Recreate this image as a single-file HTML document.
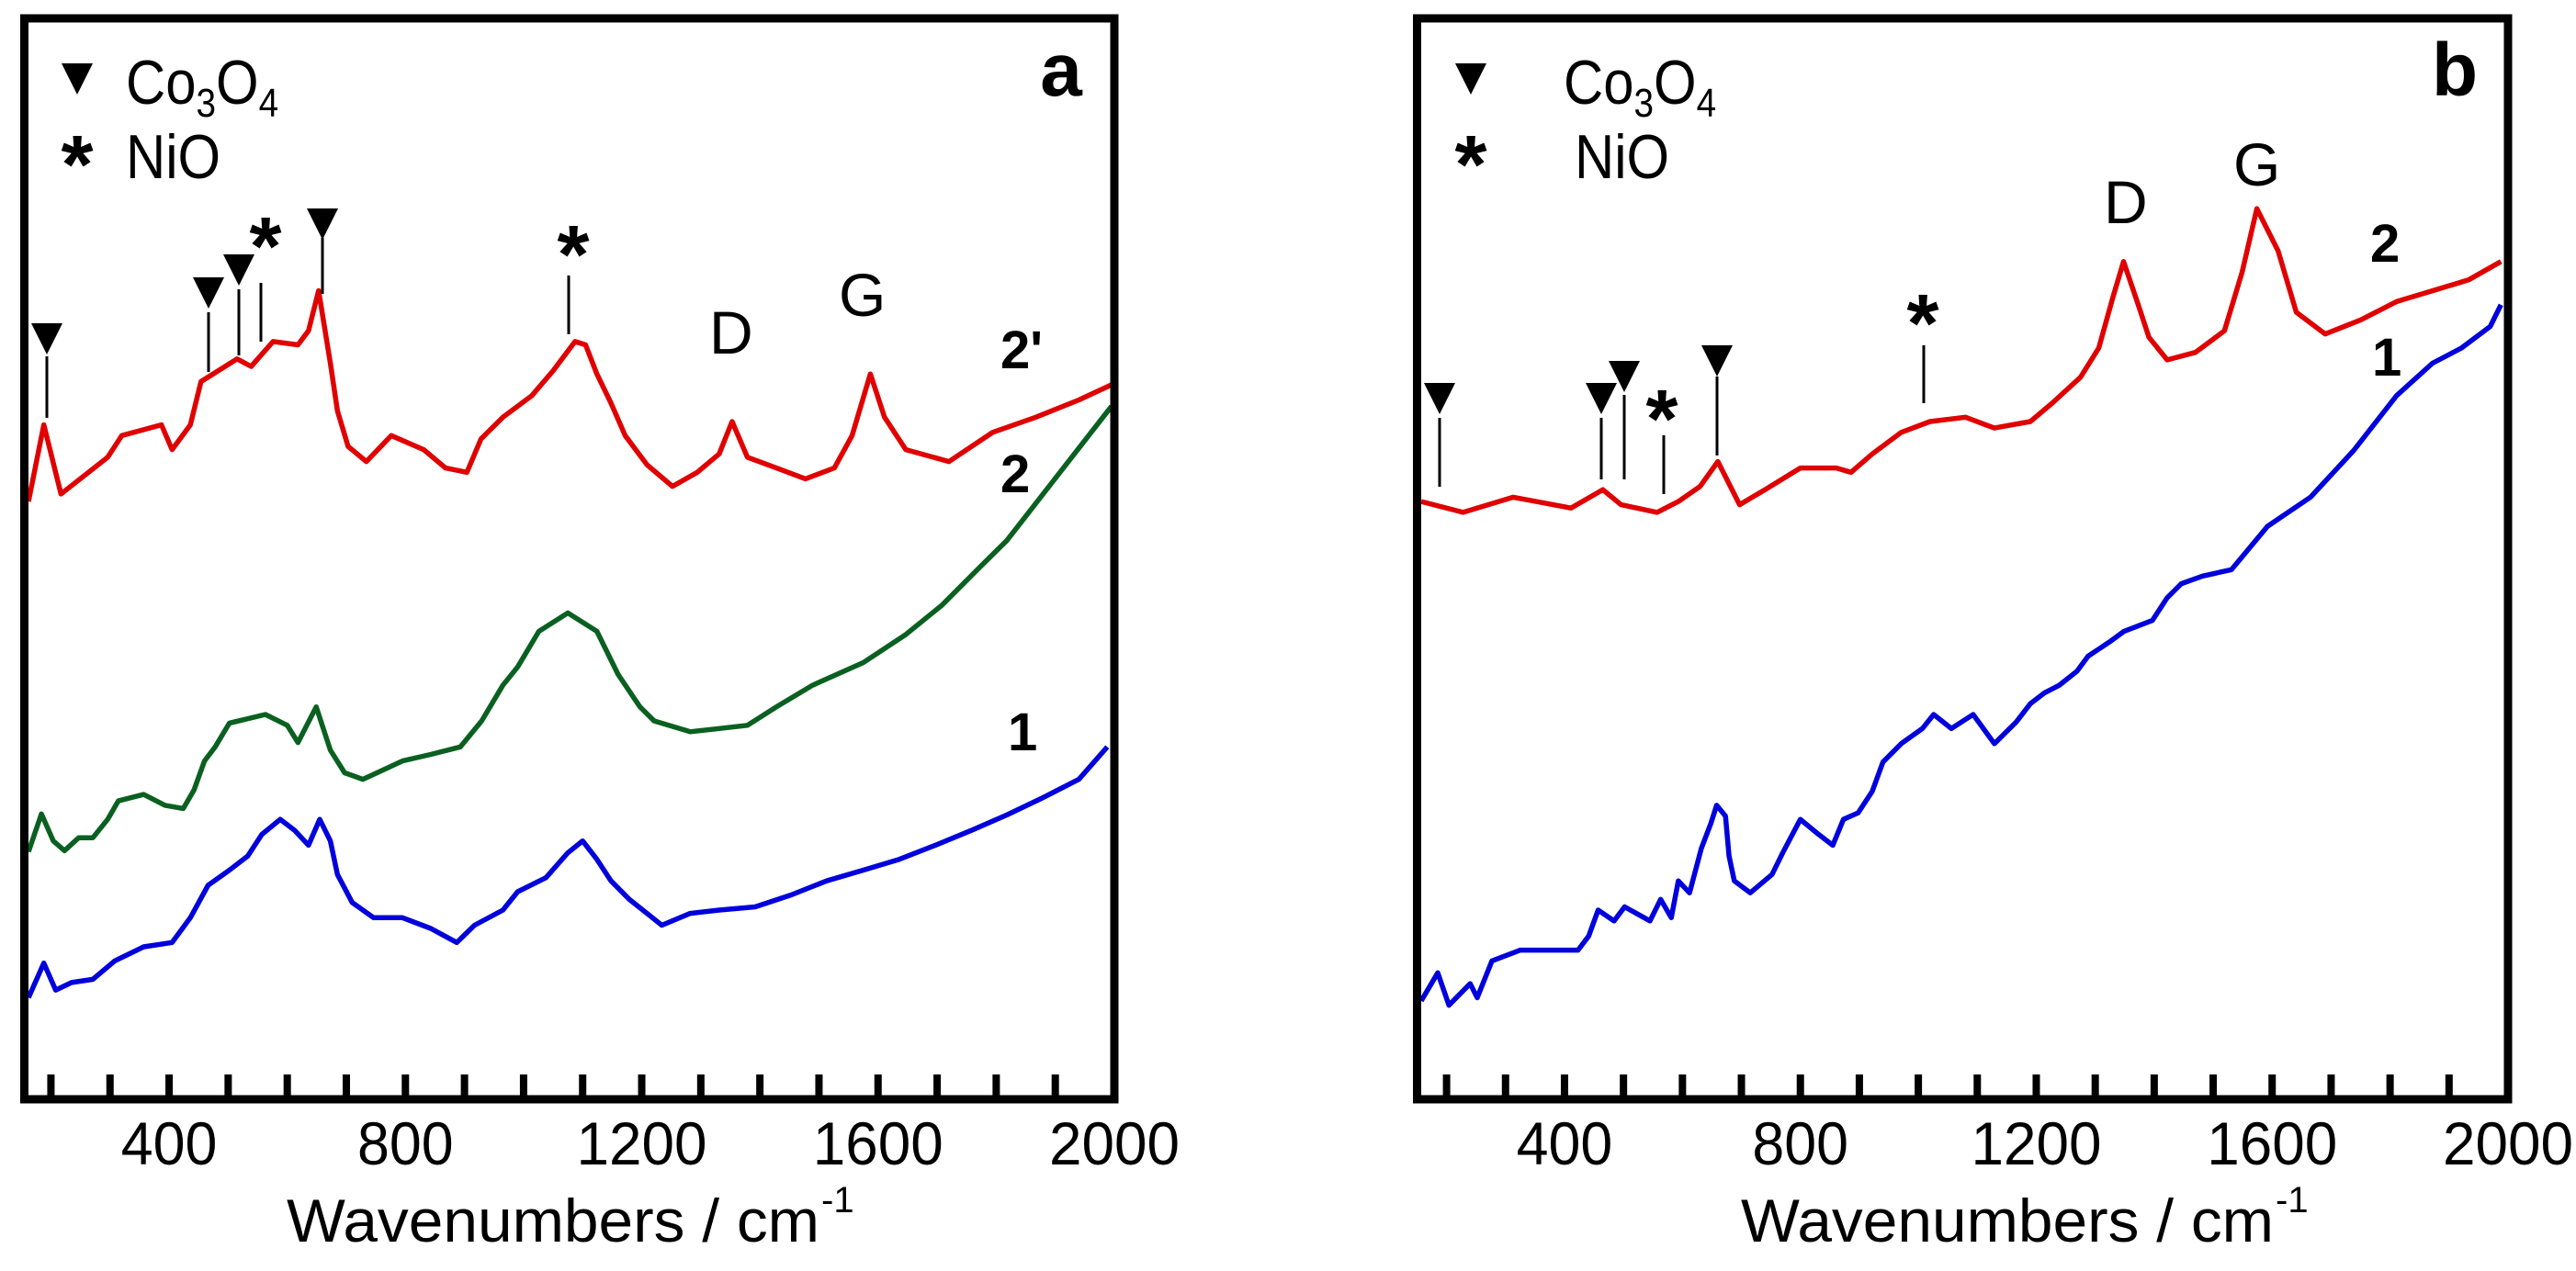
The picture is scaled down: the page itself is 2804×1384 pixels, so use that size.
<!DOCTYPE html>
<html><head><meta charset="utf-8"><style>
html,body{margin:0;padding:0;background:#fff;}
svg{display:block;}
text{font-family:"Liberation Sans",Arial,sans-serif;}
</style></head><body>
<svg id="chart" width="2804" height="1384" viewBox="0 0 2804 1384" xmlns="http://www.w3.org/2000/svg">
<rect width="2804" height="1384" fill="#fff"/>
<g id="pa"></g>
<g id="pb"></g>
</svg>
<script>
// ---- data (wavenumber cm-1, intensity a.u.) ----
const tickValues = [200,300,400,500,600,700,800,900,1000,1100,1200,1300,1400,1500,1600,1700,1800,1900];
const tickLabels = [400,800,1200,1600,2000];

const aRedX = [162,188,217,296,320,387,405,436,454,515,539,576,618,636,653,673,685,703,734,776,831,868,904,928,965,1014,1050,1087,1105,1124,1148,1172,1209,1252,1294,1331,1353,1379,1428,1477,1526,1556,1587,1611,1647,1720,1794,1867,1940,1995];
const aRedY = [55.3,62.4,56.0,59.4,61.4,62.4,60.1,62.4,66.4,68.5,67.8,70.1,69.8,71.1,74.8,68.1,63.7,60.4,59.0,61.4,60.1,58.4,58.0,61.1,63.1,65.1,67.4,70.1,69.8,67.1,64.4,61.4,58.7,56.7,58.0,59.7,62.7,59.4,58.4,57.4,58.4,61.4,67.1,63.1,60.1,59.0,61.7,63.1,64.7,66.1];

const aGreenX = [162,184,204,223,247,271,296,314,357,393,424,442,460,478,502,563,600,618,649,673,697,728,795,843,893,929,965,990,1026,1075,1124,1160,1197,1221,1282,1331,1379,1428,1489,1575,1647,1708,1770,1818,1995];
const aGreenY = [22.9,26.4,23.9,23.0,24.2,24.2,25.9,27.6,28.2,27.2,26.9,28.6,31.3,32.6,34.8,35.6,34.6,33.0,36.3,32.3,30.2,29.6,31.3,31.9,32.6,35.0,38.3,40.0,43.3,45.0,43.3,39.3,36.3,35.0,34.0,34.3,34.6,36.3,38.3,40.4,43.0,45.7,49.1,51.7,64.1];

const aBlueX = [162,188,208,235,271,308,357,405,436,466,502,533,557,588,612,636,655,673,685,710,746,795,843,887,917,965,990,1038,1075,1100,1124,1148,1179,1209,1234,1282,1331,1392,1453,1513,1575,1636,1697,1759,1818,1879,1940,1988];
const aBlueY = [9.4,12.6,10.1,10.8,11.1,12.8,14.1,14.5,16.8,19.8,21.2,22.5,24.5,25.9,24.9,23.5,25.9,23.9,20.8,18.2,16.8,16.8,15.8,14.5,16.1,17.5,19.2,20.5,22.8,23.9,22.2,20.2,18.5,17.2,16.1,17.2,17.5,17.8,18.9,20.2,21.2,22.2,23.5,24.9,26.3,27.9,29.6,32.6];

const bRedX = [157,228,313,411,465,496,557,593,630,660,697,740,800,861,886,922,971,1020,1080,1129,1190,1227,1275,1306,1330,1348,1373,1391,1422,1470,1519,1549,1574,1610,1641,1690,1750,1811,1872,1933,1988];
const bRedY = [55.3,54.3,55.7,54.7,56.4,55.0,54.3,55.3,56.7,59.0,55.0,56.4,58.4,58.4,58.0,59.7,61.7,62.7,63.1,62.1,62.7,64.4,66.8,69.5,74.2,77.5,73.5,70.5,68.4,69.1,71.1,76.5,82.4,78.5,72.8,70.8,72.1,73.8,74.8,75.8,77.5];

const bBlueX = [157,185,204,240,252,277,325,374,423,441,457,484,502,545,563,581,593,612,632,648,658,673,679,688,715,752,770,800,831,855,873,898,922,940,971,1007,1026,1056,1093,1129,1166,1190,1214,1239,1269,1288,1324,1349,1397,1422,1446,1482,1531,1592,1665,1738,1811,1872,1921,1970,1988];
const bBlueY = [9.1,11.7,8.7,10.7,9.4,12.8,13.8,13.8,13.8,15.1,17.5,16.5,17.8,16.5,18.5,16.8,20.2,19.1,23.2,25.5,27.2,26.2,22.5,20.2,19.1,20.8,22.8,25.9,24.5,23.5,25.9,26.5,28.5,31.2,32.9,34.3,35.6,34.3,35.6,32.9,34.9,36.6,37.6,38.3,39.6,41.0,42.3,43.3,44.3,46.4,47.7,48.4,49.0,53.0,55.7,60.0,65.1,68.1,69.5,71.5,73.5];

const NS = "http://www.w3.org/2000/svg";
function mk(parent, tag, attrs, txt){
  const e = document.createElementNS(NS, tag);
  for (const k in attrs) e.setAttribute(k, attrs[k]);
  if (txt !== undefined) e.textContent = txt;
  parent.appendChild(e);
  return e;
}
const Y0 = 1197, Y1 = 20;
function yScale(v){ return Y0 - v * (Y0 - Y1) / 100; }

function drawPanel(g, L, R, xmin, series, letter, titleX){
  const sx = w => L + (w - xmin) * (R - L) / (2000 - xmin);
  series.forEach(s => {
    const d = s.x.map((w,i)=> (i?'L':'M') + sx(w).toFixed(1) + ' ' + yScale(s.y[i]).toFixed(1)).join(' ');
    const p = mk(g, 'path', {d:d, fill:'none', stroke:s.color, 'stroke-width':5.5, 'stroke-linejoin':'round'});
    
    
  });
  const fr = mk(g, 'rect', {x:L, y:Y1, width:R-L, height:Y0-Y1, fill:'none', stroke:'#000', 'stroke-width':9});
  
  
  tickValues.forEach(t => {
    const tk = mk(g, 'line', {x1:sx(t), x2:sx(t), y1:Y0, y2:Y0-27, stroke:'#000', 'stroke-width':8});
    
    
  });
  tickLabels.forEach(t => {
    const tl = mk(g, 'text', {x:sx(t), y:1268, 'font-size':66, 'text-anchor':'middle', textLength:142, lengthAdjust:'spacingAndGlyphs'}, String(t));
    if (t < 1000) { tl.removeAttribute('textLength'); tl.setAttribute('transform','translate('+sx(t)+' 0) scale(0.95 1) translate('+(-sx(t))+' 0)'); }
    
    
  });
  const tt = mk(g, 'text', {x:titleX, y:1352, 'font-size':66, textLength:580, lengthAdjust:'spacingAndGlyphs'}, 'Wavenumbers / cm');
  
  
  const sup = mk(g, 'text', {x:titleX+582, y:1320, 'font-size':40}, '-1');
  
  
  const pl = mk(g, 'text', {x:R-58, y:104, 'font-size':82, 'font-weight':'bold', 'text-anchor':'middle'}, letter);
  
  
  return sx;
}

function tri(g, cx, ytop, name){
  const t = mk(g, 'polygon', {points:(cx-17)+','+ytop+' '+(cx+17)+','+ytop+' '+cx+','+(ytop+34), fill:'#000'});
  
  
}
function star(g, cx, cy, name){
  const s = mk(g, 'text', {x:cx, y:cy+38, 'font-size':90, 'font-weight':'bold', 'text-anchor':'middle'}, '*');
  
  
}
function vline(g, x, y1, y2){
  const l = mk(g, 'line', {x1:x, x2:x, y1:y1, y2:y2, stroke:'#000', 'stroke-width':3});
  
  
}
function label(g, x, y, txt, size, bold, name){
  const t = mk(g, 'text', {x:x, y:y, 'font-size':size, 'font-weight':bold?'bold':'normal'}, txt);
  
  
  return t;
}
function condense(t, x, f){
  t.setAttribute('transform','translate('+x+' 0) scale('+f+' 1) translate('+(-x)+' 0)');
}
function legend(g, triX, textX, nioX){
  tri(g, triX, 69, 'legend-co3o4-symbol');
  const t = mk(g, 'text', {x:textX, y:113, 'font-size':68});
  
  
  t.innerHTML = 'Co<tspan font-size="44" dy="14">3</tspan><tspan dy="-14">O</tspan><tspan font-size="44" dy="14">4</tspan>';
  condense(t, textX, 0.88);
  star(g, triX, 172, 'legend-nio-symbol');
  const n = label(g, nioX, 194, 'NiO', 68, false, 'legend-nio-label');
  condense(n, nioX, 0.88);
}

// Panel a
const ga = document.getElementById('pa');
drawPanel(ga, 26.5, 1213, 155, [
  {x:aBlueX, y:aBlueY, color:'#0000dd', name:'series-1-blue'},
  {x:aGreenX, y:aGreenY, color:'#0a6020', name:'series-2-green'},
  {x:aRedX, y:aRedY, color:'#e00000', name:'series-2prime-red'}
], 'a', 312);
legend(ga, 84, 137, 137);
tri(ga, 51, 352, 'co3o4-marker'); vline(ga, 51, 388, 455);
tri(ga, 227, 302, 'co3o4-marker'); vline(ga, 227, 340, 405);
tri(ga, 260, 277, 'co3o4-marker'); vline(ga, 260, 315, 387);
star(ga, 289, 261, 'nio-marker'); vline(ga, 284, 308, 372);
tri(ga, 351, 227, 'co3o4-marker'); vline(ga, 351, 259, 320);
star(ga, 624, 270, 'nio-marker'); vline(ga, 619, 300, 364);
label(ga, 772, 385, 'D', 66, false, 'd-band-label');
label(ga, 913, 344, 'G', 66, false, 'g-band-label');
label(ga, 1089, 401, "2'", 58, true, 'curve-label-2prime');
label(ga, 1089, 536, '2', 58, true, 'curve-label-2');
label(ga, 1097, 817, '1', 58, true, 'curve-label-1');

// Panel b
const gb = document.getElementById('pb');
drawPanel(gb, 1542.5, 2730, 150, [
  {x:bBlueX, y:bBlueY, color:'#0000dd', name:'series-1-blue'},
  {x:bRedX, y:bRedY, color:'#e00000', name:'series-2-red'}
], 'b', 1895);
legend(gb, 1601, 1702, 1714);
tri(gb, 1567, 417, 'co3o4-marker'); vline(gb, 1567, 455, 530);
tri(gb, 1743, 417, 'co3o4-marker'); vline(gb, 1743, 455, 522);
tri(gb, 1768, 393, 'co3o4-marker'); vline(gb, 1768, 430, 522);
star(gb, 1809, 449, 'nio-marker'); vline(gb, 1811, 474, 538);
tri(gb, 1869, 376, 'co3o4-marker'); vline(gb, 1869, 410, 496);
star(gb, 2093, 345, 'nio-marker'); vline(gb, 2094, 376, 439);
label(gb, 2290, 243, 'D', 66, false, 'd-band-label');
label(gb, 2431, 202, 'G', 66, false, 'g-band-label');
label(gb, 2580, 285, '2', 58, true, 'curve-label-2');
label(gb, 2582, 409, '1', 58, true, 'curve-label-1');
</script>
</body></html>
